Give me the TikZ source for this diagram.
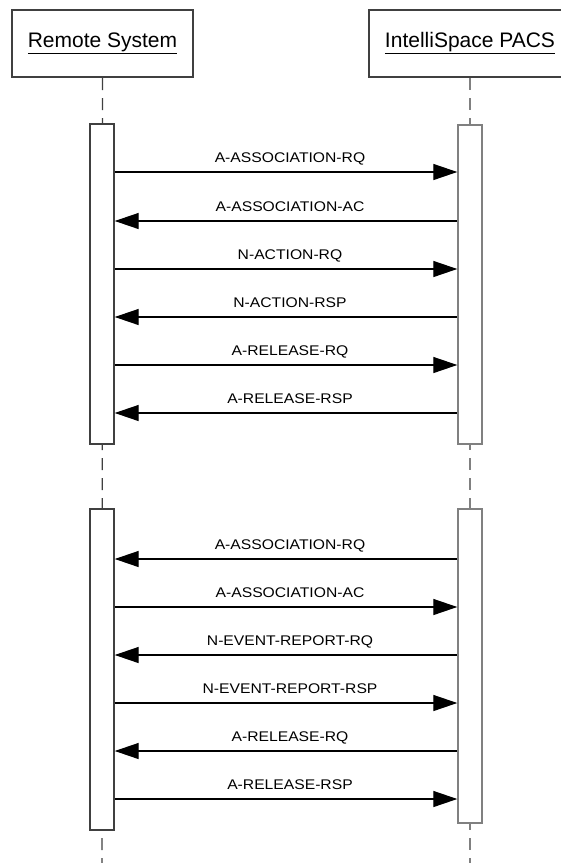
\documentclass[tikz,border=0pt]{standalone}
\usepackage{fontspec}
\setmainfont{Liberation Sans}
\usetikzlibrary{arrows.meta,backgrounds}
\definecolor{lifegray}{RGB}{128,128,128}
\definecolor{boxgray}{RGB}{64,64,64}
\tikzset{
	head/.style={draw=boxgray, line width=2pt, fill=white, minimum height=67pt, inner sep=0pt, font=\fontsize{21}{24}\selectfont},
	bar/.style={draw, line width=1.4pt, fill=white, minimum width=24pt, inner sep=0pt},
	life/.style={line width=1.4pt, dash pattern=on 12pt off 8pt},
	msg/.style={line width=1.3pt},
	lab/.style={midway, above, inner sep=0pt, text depth=0pt, yshift=9pt, xshift=4pt, font=\fontsize{14}{16}\selectfont}
}
\begin{document}
\begin{tikzpicture}[x=1pt, y=-1pt, >={Triangle[length=24pt,width=16pt]}]
	\useasboundingbox (0,0) rectangle (561,863);
	% lifeline heads
	\node[head, minimum width=181pt] (rs) at (102.5,43.5) {\underline{Remote System}};
	\node[head, minimum width=202pt] (pacs) at (470,43.5) {\underline{IntelliSpace PACS}};
	\coordinate (rsend) at (102,863);
	\coordinate (pacsend) at (470,863);
	
	% activation bars
	\node[bar, draw=boxgray, minimum height=320pt] (rs1) at (102,284) {};
	\node[bar, draw=lifegray, minimum height=319pt] (pacs1) at (470,284.5) {};
	\node[bar, draw=boxgray, minimum height=321pt] (rs2) at (102,669.5) {};
	\node[bar, draw=lifegray, minimum height=314pt] (pacs2) at (470,666) {};
	
	\begin{pgfonlayer}{background}
		\draw[life, boxgray] (rs.south) -- (rsend);
		\draw[life, lifegray] (pacs.south) -- (pacsend);
	\end{pgfonlayer}
	
	% messages, first session
	\foreach \y/\txt/\dir in {172/A-ASSOCIATION-RQ/->, 221/A-ASSOCIATION-AC/<-, 269/N-ACTION-RQ/->, 317/N-ACTION-RSP/<-, 365/A-RELEASE-RQ/->, 413/A-RELEASE-RSP/<-}
	{
		\draw[msg, \dir] (rs1.east |- 0,\y) -- node[lab]{\scalebox{1.12}[1]{\txt}} (pacs1.west |- 0,\y);
	}
	
	% messages, second session
	\foreach \y/\txt/\dir in {559/A-ASSOCIATION-RQ/<-, 607/A-ASSOCIATION-AC/->, 655/N-EVENT-REPORT-RQ/<-, 703/N-EVENT-REPORT-RSP/->, 751/A-RELEASE-RQ/<-, 799/A-RELEASE-RSP/->}
	{
		\draw[msg, \dir] (rs2.east |- 0,\y) -- node[lab]{\scalebox{1.12}[1]{\txt}} (pacs2.west |- 0,\y);
	}
\end{tikzpicture}
\end{document}
